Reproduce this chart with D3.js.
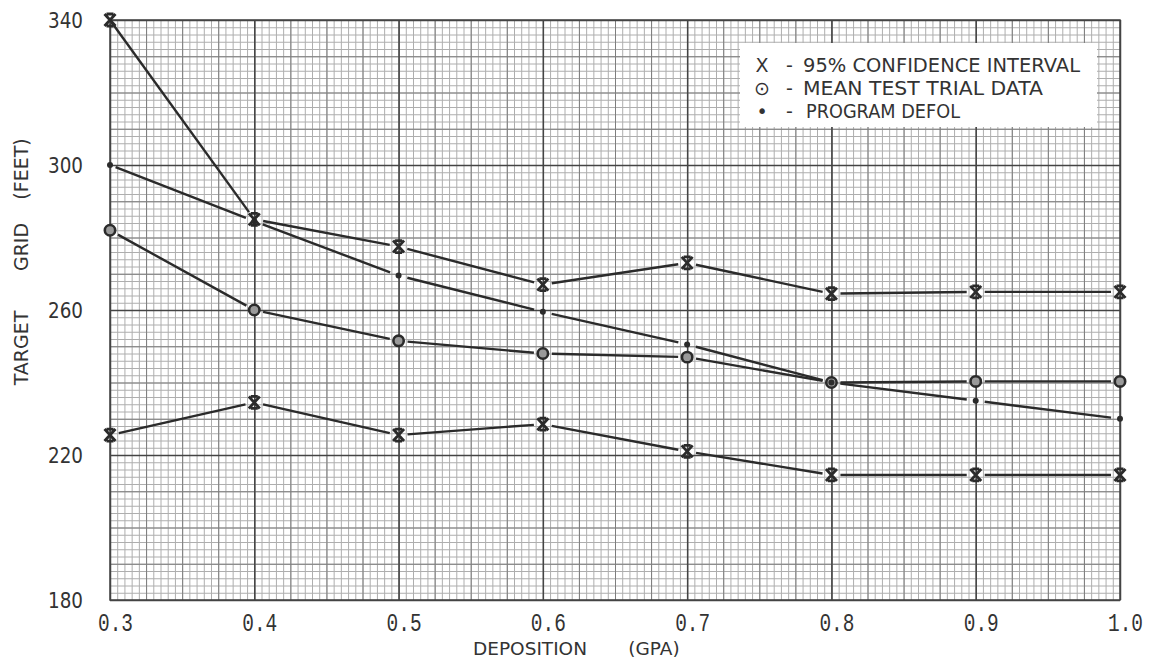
<!DOCTYPE html>
<html><head><meta charset="utf-8">
<script src="https://cdn.jsdelivr.net/npm/d3@7"></script>
<style>body{margin:0;background:#fff;} svg{display:block}</style>
</head><body><svg id="c" width="1153" height="660"></svg>
<script>
// ---- data ----
const deposition = [0.3, 0.4, 0.5, 0.6, 0.7, 0.8, 0.9, 1.0];
const xTickLabels = ["0.3", "0.4", "0.5", "0.6", "0.7", "0.8", "0.9", "1.0"];
const yTicks = [180, 220, 260, 300, 340];
const upperCI = [340, 285, 277.5, 267, 273, 264.5, 265, 265];
const lowerCI = [225.5, 234.5, 225.5, 228.5, 221, 214.5, 214.5, 214.5];
const meanTrial = [282, 260, 251.5, 248, 247, 240, 240.3, 240.3];
const programDefol = [300, 284.5, 269.5, 259.5, 250.5, 240, 235, 230];
const legendSymbols = ["X", "\u2299", "\u2022"];
const legendLabels = ["95% CONFIDENCE INTERVAL", "MEAN TEST TRIAL DATA", "PROGRAM DEFOL"];
const xTitleWords = ["DEPOSITION", "(GPA)"];
const yTitleWords = ["TARGET", "GRID", "(FEET)"];

// ---- layout ----
const svg = d3.select("#c");
const L = 110, R = 1120, T = 20, B = 600;
const x = d3.scaleLinear().domain([0.3, 1.0]).range([L, R]);
const y = d3.scaleLinear().domain([180, 340]).range([B, T]);

svg.append("rect").attr("width", 1153).attr("height", 660).attr("fill", "#fff");

// ---- graph-paper grid ----
function vgrid(step, color, w) {
  const vals = d3.range(0, Math.round(0.7 / step) + 1).map(i => 0.3 + i * step);
  const g = svg.append("g").attr("transform", `translate(0,${B})`)
    .call(d3.axisBottom(x).tickValues(vals).tickSize(-(B - T)).tickFormat(""));
  g.select(".domain").remove();
  g.selectAll("line").attr("stroke", color).attr("stroke-width", w);
}
function hgrid(step, color, w) {
  const vals = d3.range(0, Math.round(160 / step) + 1).map(i => 180 + i * step);
  const g = svg.append("g").attr("transform", `translate(${L},0)`)
    .call(d3.axisLeft(y).tickValues(vals).tickSize(-(R - L)).tickFormat(""));
  g.select(".domain").remove();
  g.selectAll("line").attr("stroke", color).attr("stroke-width", w);
}
vgrid(0.005, "#aeaeae", 1);
hgrid(2, "#aeaeae", 1);
vgrid(0.025, "#7e7e7e", 1);
hgrid(10, "#7e7e7e", 1);
vgrid(0.1, "#444", 1.5);
hgrid(40, "#444", 1.5);
svg.append("rect").attr("x", L).attr("y", T).attr("width", R - L).attr("height", B - T)
  .attr("fill", "none").attr("stroke", "#444").attr("stroke-width", 1.5);

// ---- tick labels via axes ----
const xa = svg.append("g").attr("transform", `translate(0,${B})`)
  .call(d3.axisBottom(x).tickValues(deposition).tickSize(0).tickPadding(0)
    .tickFormat((d, i) => xTickLabels[i]));
xa.select(".domain").remove();
xa.selectAll("text").attr("font-family", "Liberation Mono, DejaVu Sans Mono, monospace")
  .attr("font-size", 25).attr("fill", "#333").attr("dy", null).attr("y", 31).attr("dx", 5)
  .attr("textLength", 35).attr("lengthAdjust", "spacingAndGlyphs");

const ya = svg.append("g").attr("transform", `translate(${L},0)`)
  .call(d3.axisLeft(y).tickValues(yTicks).tickSize(0).tickPadding(27).tickFormat(d => String(d)));
ya.select(".domain").remove();
ya.selectAll("text").attr("font-family", "DejaVu Sans, sans-serif")
  .attr("font-size", 21).attr("fill", "#333").attr("dy", "0.36em")
  .attr("textLength", 35).attr("lengthAdjust", "spacingAndGlyphs");

// ---- axis titles ----
const xt = [{w: xTitleWords[0], c: 530}, {w: xTitleWords[1], c: 654}];
svg.selectAll(".xt").data(xt).enter().append("text")
  .attr("x", d => d.c).attr("y", 655).attr("text-anchor", "middle")
  .attr("font-family", "DejaVu Sans, sans-serif").attr("font-size", 18.5).attr("fill", "#333")
  .text(d => d.w);

const yt = [{w: yTitleWords[0], c: 348}, {w: yTitleWords[1], c: 247}, {w: yTitleWords[2], c: 169}];
svg.selectAll(".yt").data(yt).enter().append("text")
  .attr("transform", d => `translate(28,${d.c}) rotate(-90)`).attr("text-anchor", "middle")
  .attr("font-family", "DejaVu Sans, sans-serif").attr("font-size", 19).attr("fill", "#333")
  .text(d => d.w);

// ---- series ----
const ink = "#2b2b2b";
function series(vals, gap0) {
  const pts = vals.map((v, i) => [x(deposition[i]), y(v)]);
  const g = svg.append("g");
  for (let i = 0; i < pts.length - 1; i++) {
    const [x1, y1] = pts[i], [x2, y2] = pts[i + 1];
    const dx = x2 - x1, dy = y2 - y1, len = Math.hypot(dx, dy);
    const ux = dx / len, uy = dy / len;
    const g1 = i === 0 && gap0 !== undefined ? gap0 : 9, g2 = 9;
    g.append("line").attr("x1", x1 + ux * g1).attr("y1", y1 + uy * g1)
      .attr("x2", x2 - ux * g2).attr("y2", y2 - uy * g2)
      .attr("stroke", ink).attr("stroke-width", 2.4).attr("stroke-linecap", "butt");
  }
  return pts;
}
const xPath = "M-5.5,-6 L5.5,6 M5.5,-6 L-5.5,6 M-3.5,-6 L3.5,-6 M-3.5,6 L3.5,6";
function xMarks(pts) {
  svg.append("g").selectAll("path").data(pts).enter().append("path")
    .attr("transform", d => `translate(${d[0]},${d[1]})`).attr("d", xPath)
    .attr("fill", "none").attr("stroke", ink).attr("stroke-width", 2.8);
}
const pU = series(upperCI, 3);
const pL = series(lowerCI);
const pM = series(meanTrial);
const pP = series(programDefol, 6);
xMarks(pU); xMarks(pL);
svg.append("g").selectAll("circle").data(pM).enter().append("circle")
  .attr("cx", d => d[0]).attr("cy", d => d[1]).attr("r", 5.2)
  .attr("fill", "#9a9a9a").attr("stroke", ink).attr("stroke-width", 2.6);
svg.append("g").selectAll("circle").data(pP).enter().append("circle")
  .attr("cx", d => d[0]).attr("cy", d => d[1]).attr("r", 3)
  .attr("fill", ink);

// ---- legend ----
svg.append("rect").attr("x", 740).attr("y", 43).attr("width", 357).attr("height", 84).attr("fill", "#fff");
const lg = svg.append("g").attr("font-family", "DejaVu Sans, sans-serif").attr("font-size", 19).attr("fill", "#333");
const lens = [277, 240, 154];
legendLabels.forEach((t, i) => {
  const by = 72 + i * 23;
  lg.append("text").attr("x", 762).attr("y", by).attr("text-anchor", "middle").text(legendSymbols[i]);
  lg.append("text").attr("x", 786).attr("y", by).text("-");
  lg.append("text").attr("x", i === 2 ? 806 : 803).attr("y", by)
    .attr("textLength", lens[i]).attr("lengthAdjust", "spacingAndGlyphs").text(t);
});
</script></body></html>
